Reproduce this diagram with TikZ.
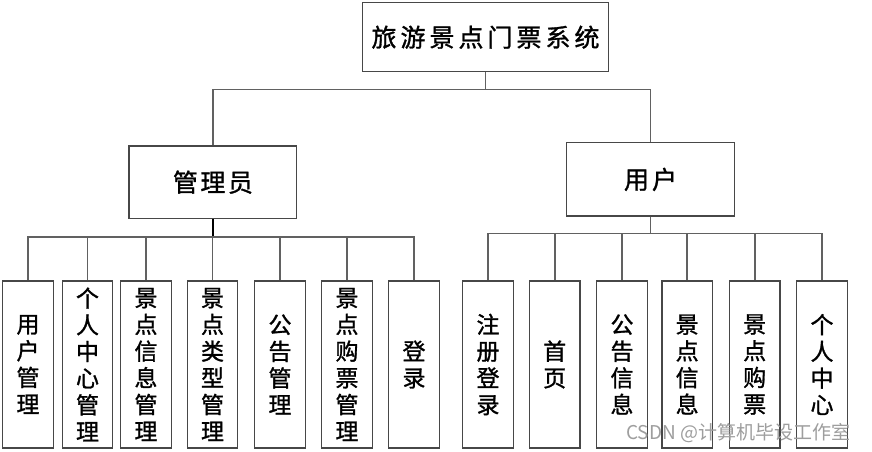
\documentclass[tikz,border=0pt]{standalone}
\usepackage{fontspec}
\newfontfamily\cjk[FakeBold=1.2]{Noto Sans CJK SC}
\newfontfamily\cjkwm{Noto Sans CJK SC}
\newcommand\chsp[1]{\hspace{#1pt}}
\tikzset{
  box/.style={draw=black!72, line width=1.4pt, fill=white, inner sep=0pt, align=center},
  vbox/.style={box, minimum width=50.5pt, minimum height=167pt, font=\cjk\fontsize{23}{26.7}\selectfont},
  hfont/.style={font=\cjk\fontsize{25}{28}\selectfont},
  conn/.style={draw=black!62, line width=1.6pt},
  darkconn/.style={draw=black, line width=1.7pt}
}
\begin{document}
\begin{tikzpicture}[x=1pt,y=-1pt]
\useasboundingbox[fill=white] (0,0) rectangle (872,452);
% top level
\node[box, hfont, minimum width=245.6pt, minimum height=69pt] (top) at (485.5,37.2) {旅\chsp4游\chsp4景\chsp4点\chsp4门\chsp4票\chsp4系\chsp4统};
\node[box, hfont, minimum width=167.7pt, minimum height=72.3pt] (admin) at (212.9,182.2) {管\chsp{2.5}理\chsp{2.5}员};
\node[box, hfont, minimum width=167.6pt, minimum height=73.3pt] (user) at (650.5,179.4) {用\chsp3户};
% admin children
\node[vbox] (a1) at (28,364.5) {用\\户\\管\\理};
\node[vbox] (a2) at (87.5,364.5) {个\\人\\中\\心\\管\\理};
\node[vbox] (a3) at (146,364.5) {景\\点\\信\\息\\管\\理};
\node[vbox] (a4) at (212.5,364.5) {景\\点\\类\\型\\管\\理};
\node[vbox] (a5) at (280,364.5) {公\\告\\管\\理};
\node[vbox] (a6) at (347,364.5) {景\\点\\购\\票\\管\\理};
\node[vbox] (a7) at (414,364.5) {登\\录};
% user children
\node[vbox] (u1) at (488,364.5) {注\\册\\登\\录};
\node[vbox] (u2) at (554.7,364.5) {首\\页};
\node[vbox] (u3) at (622,364.5) {公\\告\\信\\息};
\node[vbox] (u4) at (687.2,364.5) {景\\点\\信\\息};
\node[vbox] (u5) at (754.7,364.5) {景\\点\\购\\票};
\node[vbox] (u6) at (822,364.5) {个\\人\\中\\心};
% connectors
\coordinate (tb) at (485.5,89.5);
\coordinate (ab) at (212.9,236.7);
\coordinate (ub) at (650.5,233.5);
\draw[conn] (top.south) -- (tb);
\draw[conn] (tb) -| (admin.north);
\draw[conn] (tb) -| (user.north);
\draw[darkconn] (admin.south) -- (ab);
\foreach \n in {a1,a2,a3,a4,a5,a6,a7} \draw[conn] (ab) -| (\n.north);
\draw[conn] (user.south) -- (ub);
\foreach \n in {u1,u2,u3,u4,u5,u6} \draw[conn] (ub) -| (\n.north);
% watermark
\node[anchor=west, text=black!38, font=\cjkwm\fontsize{19}{21}\selectfont, inner sep=0pt] (wm) at (626,433) {CSDN @计算机毕设工作室};
\end{tikzpicture}
\end{document}
